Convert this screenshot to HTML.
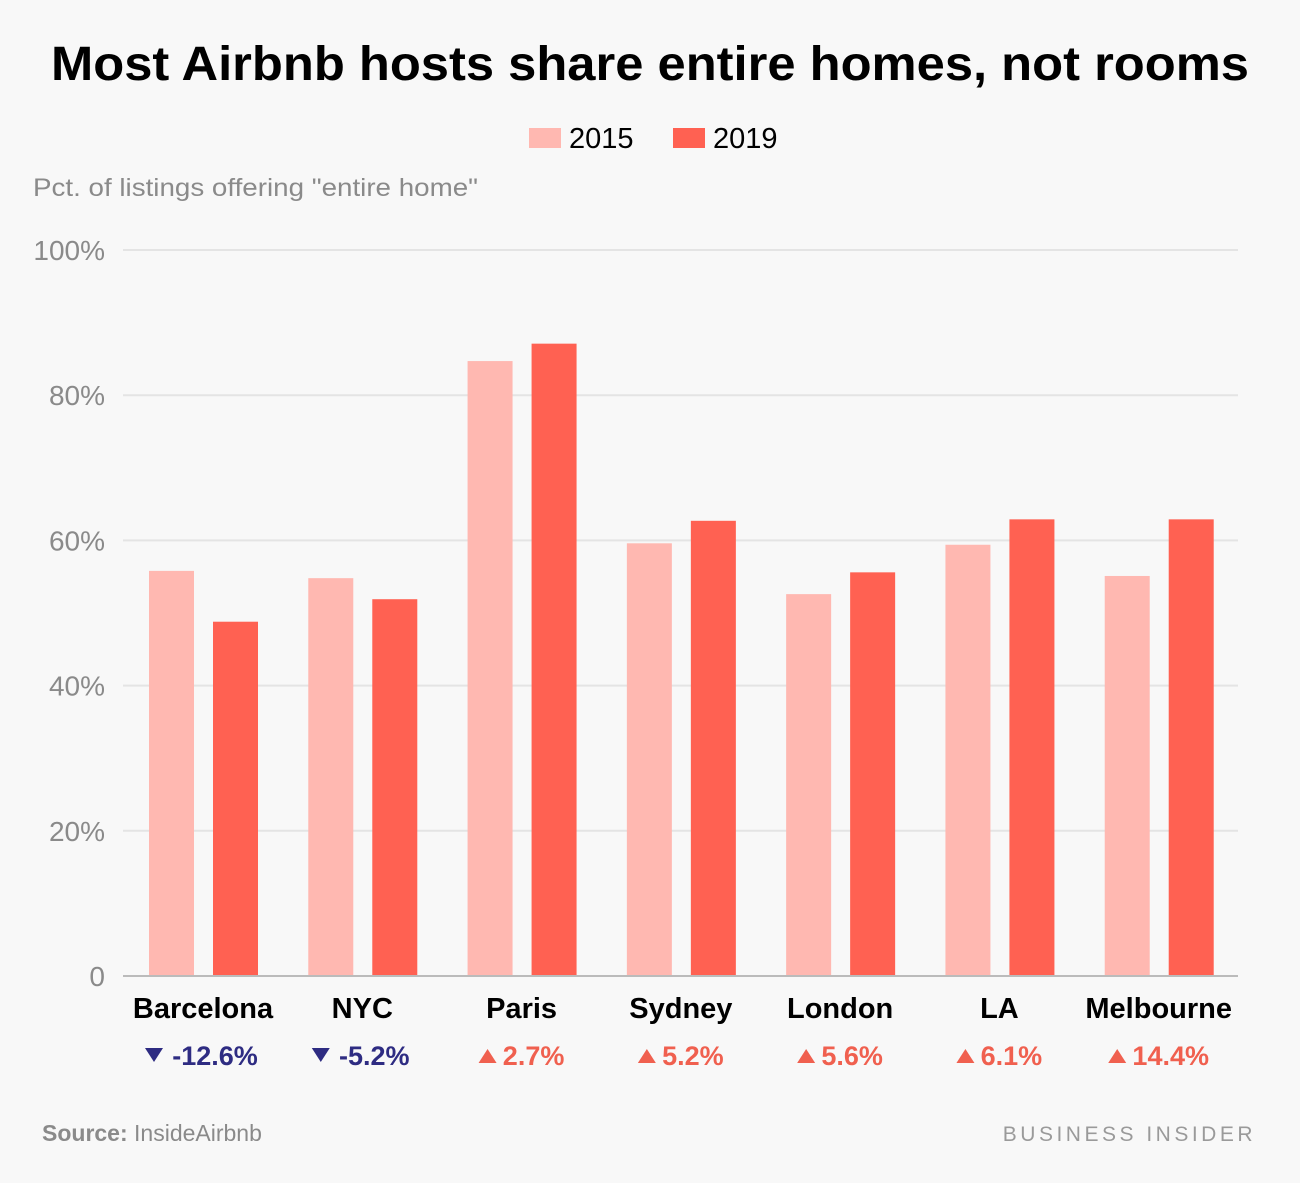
<!DOCTYPE html>
<html><head><meta charset="utf-8">
<style>
body{margin:0;background:#f8f8f8;font-family:"Liberation Sans",sans-serif;}
#wrap{position:relative;width:1300px;height:1183px;overflow:hidden;}
</style></head>
<body>
<div id="wrap">
<svg id="chart" width="1300" height="1183"></svg>
</div>
<script>
const categories=["Barcelona","NYC","Paris","Sydney","London","LA","Melbourne"];
const values2015=[55.8,54.8,84.7,59.6,52.6,59.4,55.1];
const values2019=[48.8,51.9,87.1,62.7,55.6,62.9,62.9];
const changeLabels=["-12.6%","-5.2%","2.7%","5.2%","5.6%","6.1%","14.4%"];
const yTicks=[0,20,40,60,80,100];
const yTickLabels=["0","20%","40%","60%","80%","100%"];

const svg=document.getElementById('chart');
const NS='http://www.w3.org/2000/svg';
const x0=123,x1=1238,yBase=976,yTop=250;
const groupW=(x1-x0)/categories.length;
function yScale(v){return yBase-(v/100)*(yBase-yTop);}
function xGroup(i){return x0+i*groupW;}
function mk(tag,attrs,text){const e=document.createElementNS(NS,tag);for(const k in attrs)e.setAttribute(k,attrs[k]);if(text!==undefined)e.textContent=text;svg.appendChild(e);return e;}

let t=mk('text',{x:51,y:80,'font-size':48,'font-weight':'bold',fill:'#000',textLength:1198,lengthAdjust:'spacingAndGlyphs'},'Most Airbnb hosts share entire homes, not rooms');



let r=mk('rect',{x:529,y:128,width:32,height:20,fill:'#ffb8b1'});


t=mk('text',{x:569,y:148,'font-size':29,fill:'#000'},'2015');


r=mk('rect',{x:673,y:128,width:32,height:20,fill:'#ff6152'});


t=mk('text',{x:713,y:148,'font-size':29,fill:'#000'},'2019');



t=mk('text',{x:33,y:196,'font-size':25,fill:'#8a8a8a',textLength:445,lengthAdjust:'spacingAndGlyphs'},'Pct. of listings offering "entire home"');



yTicks.forEach((v,i)=>{
  const y=yScale(v);
  if(v>0){const l=mk('line',{x1:x0,x2:x1,y1:y,y2:y,stroke:'#e4e4e4','stroke-width':2});
  
  }
  const tx=mk('text',{x:105,y:y+10,'text-anchor':'end','font-size':28,fill:'#8a8a8a'},yTickLabels[i]);
  
  
});

categories.forEach((c,i)=>{
  const gx=xGroup(i);
  const b1=mk('rect',{x:gx+26,y:yScale(values2015[i]),width:45,height:yBase-yScale(values2015[i]),fill:'#ffb8b1'});
  
  
  const b2=mk('rect',{x:gx+90,y:yScale(values2019[i]),width:45,height:yBase-yScale(values2019[i]),fill:'#ff6152'});
  
  
  const cx=gx+80;
  const lab=mk('text',{x:cx,y:1018,'text-anchor':'middle','font-size':29,'font-weight':'bold',fill:'#000'},c);
  
  
  const neg=changeLabels[i].startsWith('-');
  const col=neg?'#2e2c82':'#f0604f';
  const ch=mk('text',{x:cx+12,y:1065,'text-anchor':'middle','font-size':27,'font-weight':'bold',fill:col},changeLabels[i]);
  
  
  const w=changeLabels[i].length*15;
  const ax=cx+12-w/2-16;
  const tri=mk('path',{d:neg?`M${ax-9} 1048 L${ax+9} 1048 L${ax} 1062 Z`:`M${ax-9} 1063 L${ax+9} 1063 L${ax} 1049 Z`,fill:col});
  
  
});

const ax=mk('line',{x1:x0,x2:x1,y1:yBase,y2:yBase,stroke:'#bbbbbb','stroke-width':2});



t=mk('text',{x:42,y:1141,'font-size':23,fill:'#8a8a8a'},'');
t.innerHTML='<tspan font-weight="bold">Source:</tspan> InsideAirbnb';


t=mk('text',{x:1256,y:1141,'text-anchor':'end','font-size':21,'letter-spacing':'3.5',fill:'#9a9a9a'},'BUSINESS INSIDER');


</script>
</body></html>
